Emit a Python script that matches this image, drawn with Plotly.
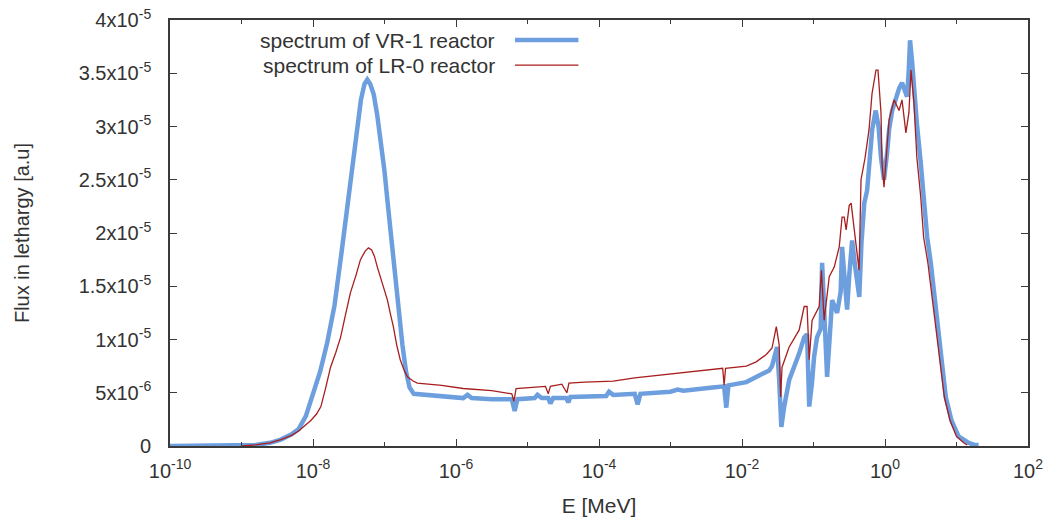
import plotly.graph_objects as go

# ---------------- data ----------------
# VR-1 reactor spectrum: energy [MeV], flux in lethargy [a.u.]
vr1_energy = [
    1e-10, 1e-9, 1.58e-9, 2.51e-9, 3.55e-9, 5.01e-9, 6.31e-9, 7.94e-9, 1.00e-8, 1.26e-8,
    1.58e-8, 2.00e-8, 2.51e-8, 3.16e-8, 3.98e-8, 4.68e-8, 5.25e-8, 5.75e-8, 6.31e-8, 7.08e-8,
    7.94e-8, 8.91e-8, 1.00e-7, 1.12e-7, 1.26e-7, 1.41e-7, 1.58e-7, 1.78e-7, 2.00e-7, 2.24e-7,
    2.57e-7, 5.01e-7, 1.26e-6, 1.45e-6, 1.66e-6, 3.16e-6, 6.03e-6, 6.61e-6, 7.24e-6, 1.26e-5,
    1.38e-5, 1.58e-5, 1.95e-5, 2.09e-5, 2.29e-5, 3.47e-5, 3.72e-5, 3.98e-5, 5.37e-5, 1.26e-4,
    1.38e-4, 1.58e-4, 3.16e-4, 3.47e-4, 3.80e-4, 1.00e-3, 1.26e-3, 1.51e-3, 3.89e-3, 5.62e-3,
    6.03e-3, 6.46e-3, 1.15e-2, 1.41e-2, 1.95e-2, 2.40e-2, 2.63e-2, 2.88e-2, 3.09e-2, 3.31e-2,
    3.55e-2, 3.89e-2, 4.57e-2, 6.31e-2, 7.41e-2, 8.13e-2, 8.71e-2, 9.55e-2, 1.02e-1, 1.12e-1,
    1.26e-1, 1.32e-1, 1.38e-1, 1.45e-1, 1.55e-1, 1.66e-1, 1.82e-1, 2.14e-1, 2.40e-1, 2.51e-1,
    2.69e-1, 2.95e-1, 3.16e-1, 3.47e-1, 3.80e-1, 4.37e-1, 4.68e-1, 5.13e-1, 5.62e-1, 6.03e-1,
    6.61e-1, 7.41e-1, 8.13e-1, 8.79e-1, 9.68e-1, 1.07, 1.14, 1.26, 1.42, 1.58,
    1.73, 1.91, 2.03, 2.14, 2.24, 2.40, 2.54, 2.79, 3.16, 3.51,
    3.89, 4.37, 4.90, 5.50, 6.17, 7.08, 8.51, 10.7, 14.8, 17.8,
    20.4,
]
vr1_flux = [
    0, 0, 0.01e-5, 0.03e-5, 0.06e-5, 0.11e-5, 0.16e-5, 0.28e-5, 0.48e-5, 0.70e-5,
    0.97e-5, 1.32e-5, 1.82e-5, 2.35e-5, 2.88e-5, 3.25e-5, 3.40e-5, 3.44e-5, 3.40e-5, 3.30e-5,
    3.10e-5, 2.85e-5, 2.58e-5, 2.25e-5, 1.92e-5, 1.58e-5, 1.25e-5, 0.95e-5, 0.70e-5, 0.55e-5,
    0.49e-5, 0.47e-5, 0.45e-5, 0.48e-5, 0.45e-5, 0.44e-5, 0.44e-5, 0.33e-5, 0.44e-5, 0.45e-5,
    0.48e-5, 0.45e-5, 0.45e-5, 0.40e-5, 0.45e-5, 0.45e-5, 0.41e-5, 0.46e-5, 0.46e-5, 0.47e-5,
    0.51e-5, 0.48e-5, 0.49e-5, 0.39e-5, 0.49e-5, 0.51e-5, 0.53e-5, 0.52e-5, 0.55e-5, 0.56e-5,
    0.36e-5, 0.57e-5, 0.60e-5, 0.63e-5, 0.67e-5, 0.71e-5, 0.75e-5, 0.84e-5, 0.93e-5, 0.62e-5,
    0.18e-5, 0.37e-5, 0.62e-5, 0.87e-5, 1.02e-5, 1.05e-5, 0.37e-5, 0.60e-5, 0.84e-5, 1.02e-5,
    1.10e-5, 1.72e-5, 1.30e-5, 1.09e-5, 0.65e-5, 0.95e-5, 1.37e-5, 1.25e-5, 1.45e-5, 1.87e-5,
    1.55e-5, 1.28e-5, 1.60e-5, 1.93e-5, 1.70e-5, 1.40e-5, 1.90e-5, 2.28e-5, 2.40e-5, 2.65e-5,
    2.97e-5, 3.15e-5, 3.00e-5, 2.71e-5, 2.50e-5, 2.75e-5, 2.97e-5, 3.15e-5, 3.28e-5, 3.36e-5,
    3.41e-5, 3.32e-5, 3.28e-5, 3.50e-5, 3.81e-5, 3.60e-5, 3.34e-5, 3.03e-5, 2.66e-5, 2.24e-5,
    1.96e-5, 1.72e-5, 1.40e-5, 1.09e-5, 0.78e-5, 0.46e-5, 0.24e-5, 0.09e-5, 0.03e-5, 0.01e-5,
    0.01e-5,
]

# LR-0 reactor spectrum: energy [MeV], flux in lethargy [a.u.]
lr0_energy = [
    1.00e-9, 1.58e-9, 2.51e-9, 3.55e-9, 5.01e-9, 6.31e-9, 7.94e-9, 9.33e-9, 1.12e-8, 1.29e-8,
    1.51e-8, 1.76e-8, 2.09e-8, 2.43e-8, 2.82e-8, 3.34e-8, 3.98e-8, 4.61e-8, 5.37e-8, 5.96e-8,
    6.61e-8, 7.24e-8, 7.94e-8, 9.33e-8, 1.10e-7, 1.20e-7, 1.33e-7, 1.48e-7, 1.66e-7, 1.86e-7,
    2.09e-7, 2.51e-7, 2.88e-7, 6.31e-7, 1.26e-6, 3.16e-6, 6.03e-6, 6.46e-6, 6.92e-6, 1.78e-5,
    1.95e-5, 2.09e-5, 3.02e-5, 3.55e-5, 3.80e-5, 6.31e-5, 1.58e-4, 3.16e-4, 7.76e-4, 1.58e-3,
    3.89e-3, 5.37e-3, 5.62e-3, 5.89e-3, 1.15e-2, 1.58e-2, 2.19e-2, 2.63e-2, 3.02e-2, 3.31e-2,
    3.47e-2, 3.63e-2, 4.57e-2, 6.31e-2, 7.41e-2, 8.13e-2, 8.71e-2, 9.55e-2, 1.20e-1, 1.29e-1,
    1.41e-1, 1.66e-1, 1.95e-1, 2.29e-1, 2.51e-1, 2.69e-1, 2.86e-1, 3.16e-1, 3.36e-1, 3.70e-1,
    4.34e-1, 4.62e-1, 5.25e-1, 5.98e-1, 6.59e-1, 7.48e-1, 7.98e-1, 8.79e-1, 9.08e-1, 9.68e-1,
    1.14, 1.34, 1.57, 1.73, 1.96, 2.16, 2.31, 2.54, 2.79, 3.16,
    3.47, 3.98, 4.57, 5.25, 5.89, 6.76, 8.13, 10.0, 12.6, 14.1,
]
lr0_flux = [
    0, 0.01e-5, 0.03e-5, 0.06e-5, 0.10e-5, 0.14e-5, 0.20e-5, 0.24e-5, 0.30e-5, 0.37e-5,
    0.55e-5, 0.74e-5, 0.88e-5, 1.02e-5, 1.22e-5, 1.44e-5, 1.60e-5, 1.75e-5, 1.83e-5, 1.86e-5,
    1.84e-5, 1.78e-5, 1.68e-5, 1.52e-5, 1.37e-5, 1.25e-5, 1.12e-5, 0.95e-5, 0.81e-5, 0.72e-5,
    0.65e-5, 0.61e-5, 0.59e-5, 0.57e-5, 0.54e-5, 0.52e-5, 0.49e-5, 0.42e-5, 0.54e-5, 0.56e-5,
    0.49e-5, 0.56e-5, 0.58e-5, 0.50e-5, 0.59e-5, 0.60e-5, 0.61e-5, 0.64e-5, 0.67e-5, 0.69e-5,
    0.72e-5, 0.73e-5, 0.57e-5, 0.73e-5, 0.75e-5, 0.79e-5, 0.86e-5, 0.92e-5, 1.12e-5, 0.95e-5,
    0.46e-5, 0.74e-5, 0.93e-5, 1.09e-5, 1.31e-5, 1.31e-5, 0.81e-5, 1.18e-5, 1.31e-5, 1.65e-5,
    1.18e-5, 1.59e-5, 1.68e-5, 1.87e-5, 2.15e-5, 2.15e-5, 2.03e-5, 2.26e-5, 2.28e-5, 2.03e-5,
    1.65e-5, 2.50e-5, 2.70e-5, 2.97e-5, 3.31e-5, 3.53e-5, 3.53e-5, 3.13e-5, 2.66e-5, 2.43e-5,
    3.06e-5, 3.25e-5, 3.15e-5, 3.25e-5, 2.94e-5, 3.13e-5, 3.53e-5, 3.22e-5, 2.71e-5, 2.34e-5,
    1.96e-5, 1.72e-5, 1.40e-5, 1.09e-5, 0.78e-5, 0.46e-5, 0.24e-5, 0.09e-5, 0.03e-5, 0.01e-5,
]

series_names = ["spectrum of VR-1 reactor", "spectrum of LR-0 reactor"]

x_tick_vals = [1e-10, 1e-8, 1e-6, 1e-4, 1e-2, 1e0, 1e2]
x_tick_text = ["10<sup>-10</sup>", "10<sup>-8</sup>", "10<sup>-6</sup>", "10<sup>-4</sup>",
               "10<sup>-2</sup>", "10<sup>0</sup>", "10<sup>2</sup>"]
x_minor_vals = [1e-9, 1e-7, 1e-5, 1e-3, 1e-1, 1e1]
y_tick_vals = [0, 0.5e-5, 1e-5, 1.5e-5, 2e-5, 2.5e-5, 3e-5, 3.5e-5, 4e-5]
y_tick_text = ["0", "5x10<sup>-6</sup>", "1x10<sup>-5</sup>", "1.5x10<sup>-5</sup>",
               "2x10<sup>-5</sup>", "2.5x10<sup>-5</sup>", "3x10<sup>-5</sup>",
               "3.5x10<sup>-5</sup>", "4x10<sup>-5</sup>"]

# ---------------- styling ----------------
BLUE = "#6d9fdf"
RED = "#a81e1e"
AXIS = "#3a3a3a"
TEXT = "#333333"
FONT = "Liberation Sans, Arial, sans-serif"

fig = go.Figure()
fig.add_trace(go.Scatter(x=vr1_energy, y=vr1_flux, mode="lines", name=series_names[0],
                         line=dict(color=BLUE, width=4.5), showlegend=False))
fig.add_trace(go.Scatter(x=lr0_energy, y=lr0_flux, mode="lines", name=series_names[1],
                         line=dict(color=RED, width=1.3), showlegend=False))

# gnuplot-style key: text right-aligned, sample line on the right
key_rows = [(0.953, BLUE, 4.5), (0.894, RED, 1.3)]
for name, (yk, col, w) in zip(series_names, key_rows):
    fig.add_annotation(xref="x domain", yref="y domain", x=0.381, y=yk, text=name,
                       showarrow=False, xanchor="right", yanchor="middle",
                       font=dict(family=FONT, size=21, color=TEXT))
    fig.add_shape(type="line", xref="x domain", yref="y domain",
                  x0=0.402, x1=0.476, y0=yk, y1=yk, line=dict(color=col, width=w))

fig.update_layout(
    width=1053, height=524,
    margin=dict(l=170, r=25, t=20, b=78),
    paper_bgcolor="white", plot_bgcolor="white",
    font=dict(family=FONT, size=20, color=TEXT),
)
fig.update_xaxes(
    type="log", range=[-10, 2], automargin=False,
    tickvals=x_tick_vals, ticktext=x_tick_text,
    ticks="inside", ticklen=7, tickwidth=1.2, tickcolor=AXIS,
    minor=dict(tickvals=x_minor_vals, ticks="inside", ticklen=4, tickwidth=1.2, tickcolor=AXIS),
    showline=True, linecolor=AXIS, linewidth=1.6, mirror="ticks",
    showgrid=False, zeroline=False,
    ticklabelstandoff=6, ticklabeloverflow="allow",
    tickfont=dict(family=FONT, size=20, color=TEXT),
    title=dict(text="E [MeV]", font=dict(family=FONT, size=21, color=TEXT), standoff=18),
)
fig.update_yaxes(
    range=[0, 4e-5], automargin=False,
    tickvals=y_tick_vals, ticktext=y_tick_text,
    ticks="inside", ticklen=7, tickwidth=1.2, tickcolor=AXIS,
    showline=True, linecolor=AXIS, linewidth=1.6, mirror="ticks",
    showgrid=False, zeroline=False,
    ticklabelstandoff=13, ticklabeloverflow="allow",
    tickfont=dict(family=FONT, size=20, color=TEXT),
    title=dict(text="Flux in lethargy [a.u]", font=dict(family=FONT, size=20, color=TEXT),
               standoff=44),
)

# remove the browser's default 8px page margin so the figure sits at the window origin
fig.write_html("out.html", config={"displayModeBar": False},
               post_script="document.body.style.margin='0';")
